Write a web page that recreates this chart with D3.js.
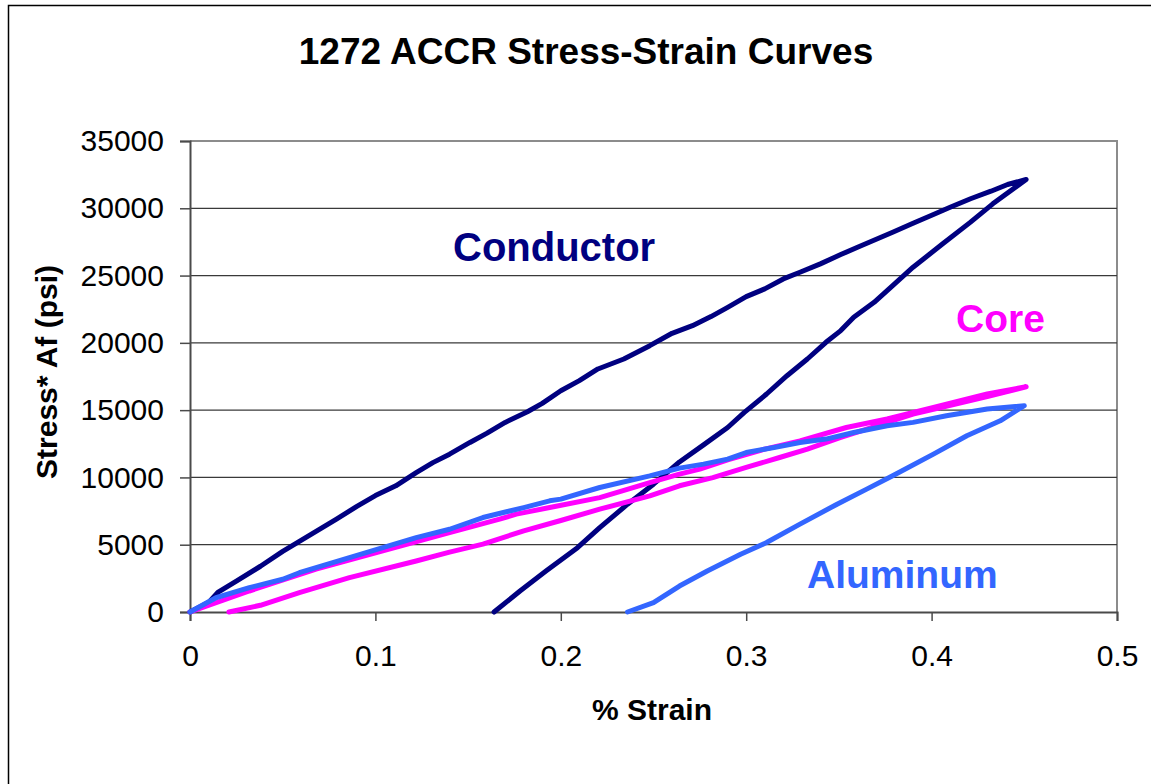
<!DOCTYPE html>
<html>
<head>
<meta charset="utf-8">
<script src="https://cdn.jsdelivr.net/npm/d3@7"></script>
<style>
  body { margin: 0; background: #fff; }
  svg { font-family: "Liberation Sans", Arial, sans-serif; }
</style>
</head>
<body>
<svg id="svg1"></svg>
<script>
// data: [% strain, stress*Af (psi)]
const conductorLoad = [
  [0, 0], [0.01, 700], [0.015, 1450], [0.025, 2300], [0.038, 3400], [0.05, 4500],
  [0.059, 5250], [0.079, 6900], [0.09, 7850], [0.1, 8650], [0.111, 9380], [0.122, 10350],
  [0.131, 11100], [0.14, 11730], [0.151, 12600], [0.16, 13270], [0.17, 14090], [0.182, 14880],
  [0.19, 15500], [0.2, 16440], [0.21, 17190], [0.22, 18060], [0.234, 18800], [0.248, 19790],
  [0.26, 20710], [0.271, 21280], [0.281, 21950], [0.29, 22640], [0.3, 23440], [0.31, 24010],
  [0.32, 24750], [0.329, 25250], [0.34, 25870], [0.351, 26560], [0.361, 27160], [0.379, 28220],
  [0.39, 28890], [0.401, 29540], [0.41, 30080], [0.421, 30710], [0.432, 31270], [0.441, 31770],
  [0.451, 32140]
];
const conductorUnload = [
  [0.451, 32140], [0.433, 30330], [0.421, 28970], [0.406, 27360], [0.39, 25620], [0.379, 24260],
  [0.369, 23010], [0.358, 21900], [0.351, 20910], [0.343, 20040], [0.333, 18800], [0.322, 17560],
  [0.311, 16200], [0.299, 14830], [0.29, 13710], [0.277, 12420], [0.264, 11150], [0.25, 9500],
  [0.236, 8010], [0.221, 6270], [0.209, 4780], [0.192, 3050], [0.178, 1560], [0.164, 0]
];
const coreLoad = [
  [0, 0], [0.032, 1560], [0.068, 3180], [0.104, 4540], [0.14, 5900], [0.167, 6900],
  [0.176, 7270], [0.194, 7760], [0.221, 8500], [0.248, 9620], [0.264, 10250], [0.275, 10620],
  [0.29, 11300], [0.31, 12100], [0.329, 12720], [0.354, 13710], [0.376, 14340], [0.401, 15200],
  [0.43, 16200], [0.451, 16740]
];
const coreUnload = [
  [0.451, 16740], [0.43, 16000], [0.405, 15200], [0.39, 14710], [0.376, 14090], [0.365, 13590],
  [0.351, 12970], [0.333, 12100], [0.318, 11480], [0.3, 10740], [0.282, 9990], [0.264, 9380],
  [0.248, 8630], [0.221, 7640], [0.2, 6800], [0.18, 6030], [0.158, 5040], [0.14, 4450],
  [0.122, 3790], [0.086, 2550], [0.059, 1440], [0.038, 500], [0.021, 0]
];
const aluminumLoad = [
  [0, 0], [0.014, 1060], [0.032, 1810], [0.05, 2430], [0.059, 2920], [0.086, 4040],
  [0.104, 4780], [0.122, 5530], [0.14, 6150], [0.158, 7020], [0.18, 7760], [0.194, 8260],
  [0.2, 8390], [0.221, 9250], [0.248, 10120], [0.264, 10690], [0.277, 10990], [0.29, 11360],
  [0.3, 11850], [0.315, 12230], [0.329, 12600], [0.343, 12850], [0.358, 13340], [0.376, 13840],
  [0.39, 14090], [0.408, 14580], [0.43, 15080], [0.45, 15330]
];
const aluminumUnload = [
  [0.45, 15330], [0.437, 14210], [0.419, 13100], [0.401, 11730], [0.379, 10120], [0.365, 9130],
  [0.349, 8010], [0.329, 6530], [0.311, 5160], [0.297, 4290], [0.279, 3050], [0.264, 1930],
  [0.25, 690], [0.236, 0]
];

const xTicks = [0, 0.1, 0.2, 0.3, 0.4, 0.5];
const yTicks = [0, 5000, 10000, 15000, 20000, 25000, 30000, 35000];

const series = [
  {name: 'Conductor', color: '#000080', points: conductorLoad.concat(conductorUnload), label: [453, 261]},
  {name: 'Core', color: '#FF00FF', points: coreLoad.concat(coreUnload), label: [956, 332]},
  {name: 'Aluminum', color: '#3366FF', points: aluminumLoad.concat(aluminumUnload), label: [807, 588]}
];

// layout
const width = 1151, height = 784;
const plot = {left: 190, top: 141, right: 1117, bottom: 612};

const svg = d3.select('#svg1')
    .attr('width', width)
    .attr('height', height);

// outer chart border
svg.append('rect')
    .attr('x', 8.5).attr('y', 5.5)
    .attr('width', 1200).attr('height', 850)
    .attr('fill', '#fff')
    .attr('stroke', '#000')
    .attr('stroke-width', 1.5);

const x = d3.scaleLinear().domain([0, 0.5]).range([plot.left, plot.right]);
const y = d3.scaleLinear().domain([0, 35000]).range([plot.bottom, plot.top]);

// plot area frame (top / right)
svg.append('path')
    .attr('d', `M${plot.left},${plot.top}H${plot.right}V${plot.bottom}`)
    .attr('fill', 'none')
    .attr('stroke', '#8c8c8c')
    .attr('stroke-width', 2);

// gridlines
svg.append('g')
    .selectAll('line')
    .data(yTicks.filter(d => d > 0 && d < 35000))
    .enter()
    .append('line')
    .attr('x1', plot.left).attr('x2', plot.right)
    .attr('y1', d => y(d)).attr('y2', d => y(d))
    .attr('stroke', '#3a3a3a')
    .attr('stroke-width', 1.3);

// axes
const yAxis = svg.append('g')
    .attr('transform', 'translate(' + plot.left + ',0)')
    .call(d3.axisLeft(y).tickValues(yTicks).tickSize(10).tickPadding(16).tickFormat(d3.format('d')));
const xAxis = svg.append('g')
    .attr('transform', 'translate(0,' + plot.bottom + ')')
    .call(d3.axisBottom(x).tickValues(xTicks).tickSize(9).tickPadding(24).tickFormat(d => d === 0 ? '0' : d3.format('.1f')(d)));

[xAxis, yAxis].forEach(function(a) {
  a.select('.domain').attr('stroke', '#4a4a4a').attr('stroke-width', 2);
  a.selectAll('.tick line').attr('stroke', '#4a4a4a').attr('stroke-width', 1.5);
  a.selectAll('.tick text')
      .attr('fill', '#000')
      .style('font-family', '"Liberation Sans", Arial, sans-serif')
      .style('font-size', '30px');
});

// curves
const line = d3.line()
    .x(d => x(d[0]))
    .y(d => y(d[1]));

svg.append('g')
    .selectAll('path')
    .data(series)
    .enter()
    .append('path')
    .attr('d', d => line(d.points))
    .attr('fill', 'none')
    .attr('stroke', d => d.color)
    .attr('stroke-width', 5)
    .attr('stroke-linejoin', 'round')
    .attr('stroke-linecap', 'round');

// series labels
svg.append('g')
    .selectAll('text')
    .data(series)
    .enter()
    .append('text')
    .attr('x', d => d.label[0])
    .attr('y', d => d.label[1])
    .attr('fill', d => d.color)
    .style('font-size', d => d.name === 'Conductor' ? '40px' : '39px')
    .style('font-weight', 'bold')
    .text(d => d.name);

// titles
svg.append('text')
    .attr('x', 586)
    .attr('y', 64)
    .attr('text-anchor', 'middle')
    .style('font-size', '37px')
    .style('font-weight', 'bold')
    .text('1272 ACCR Stress-Strain Curves');

svg.append('text')
    .attr('x', 652)
    .attr('y', 720)
    .attr('text-anchor', 'middle')
    .style('font-size', '30px')
    .style('font-weight', 'bold')
    .text('% Strain');

svg.append('text')
    .attr('transform', 'translate(57,372) rotate(-90)')
    .attr('text-anchor', 'middle')
    .style('font-size', '30px')
    .style('font-weight', 'bold')
    .text('Stress* Af (psi)');
</script>
</body>
</html>
